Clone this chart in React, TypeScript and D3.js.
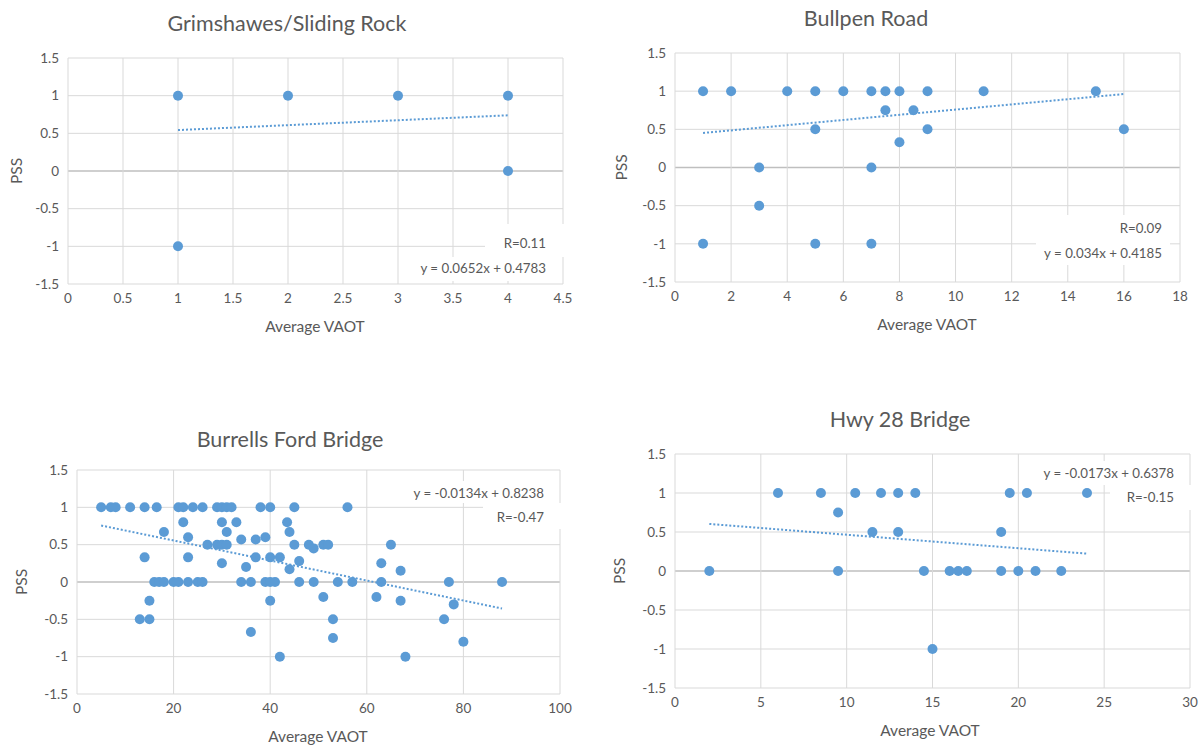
import React from "react";
import * as d3 from "d3";

// PSS vs Average VAOT, one scatter per site
const yTicks = [-1.5, -1, -0.5, 0, 0.5, 1, 1.5];

const grimshawesPoints: [number, number][] = [
  [1, 1], [2, 1], [3, 1], [4, 1], [4, 0], [1, -1],
];

const bullpenPoints: [number, number][] = [
  [1, 1], [2, 1], [4, 1], [5, 1], [6, 1], [7, 1], [7.5, 1], [8, 1], [9, 1], [11, 1], [15, 1],
  [7.5, 0.75], [8.5, 0.75], [5, 0.5], [9, 0.5], [16, 0.5], [8, 0.33],
  [3, 0], [7, 0], [3, -0.5], [1, -1], [5, -1], [7, -1],
];

const burrellsPoints: [number, number][] = [
  [5, 1], [7, 1], [8, 1], [11, 1], [14, 1], [16.5, 1], [21, 1], [22, 1], [24, 1], [26, 1],
  [29, 1], [30, 1], [31, 1], [32, 1], [38, 1], [40, 1], [45, 1], [56, 1],
  [22, 0.8], [30, 0.8], [33, 0.8], [43.5, 0.8],
  [18, 0.67], [31, 0.67], [44, 0.67],
  [23, 0.6], [34, 0.57], [37, 0.57], [39, 0.6],
  [27, 0.5], [29, 0.5], [30, 0.5], [31, 0.5], [45, 0.5], [48, 0.5], [49, 0.45], [51, 0.5], [52, 0.5], [65, 0.5],
  [14, 0.33], [23, 0.33], [37, 0.33], [40, 0.33], [42, 0.33], [30, 0.25], [35, 0.2], [46, 0.28], [44, 0.17],
  [63, 0.25], [67, 0.15],
  [16, 0], [17, 0], [18, 0], [20, 0], [21, 0], [23, 0], [25, 0], [26, 0], [34, 0], [36, 0],
  [39, 0], [40, 0], [41, 0], [46, 0], [49, 0], [54, 0], [57, 0], [63, 0], [77, 0], [88, 0],
  [15, -0.25], [13, -0.5], [15, -0.5], [36, -0.67], [40, -0.25], [42, -1], [51, -0.2],
  [53, -0.5], [53, -0.75], [62, -0.2], [67, -0.25], [68, -1], [76, -0.5], [78, -0.3], [80, -0.8],
];

const hwy28Points: [number, number][] = [
  [2, 0], [6, 1], [8.5, 1], [9.5, 0.75], [9.5, 0], [10.5, 1], [11.5, 0.5], [12, 1], [13, 1],
  [13, 0.5], [14, 1], [14.5, 0], [15, -1], [16, 0], [16.5, 0], [17, 0], [19, 0.5], [19, 0],
  [19.5, 1], [20, 0], [20.5, 1], [21, 0], [22.5, 0], [24, 1],
];

// trendline: slope, intercept, x from, x to
const grimshawesFit = [0.0652, 0.4783, 1, 4];
const bullpenFit = [0.034, 0.4185, 1, 16];
const burrellsFit = [-0.0134, 0.8238, 5, 88];
const hwy28Fit = [-0.0173, 0.6378, 2, 24];

const titles = ["Grimshawes/Sliding Rock", "Bullpen Road", "Burrells Ford Bridge", "Hwy 28 Bridge"];
const equations = ["y = 0.0652x + 0.4783", "y = 0.034x + 0.4185", "y = -0.0134x + 0.8238", "y = -0.0173x + 0.6378"];
const rLabels = ["R=0.11", "R=0.09", "R=-0.47", "R=-0.15"];

const FONT = "Lato, 'Open Sans', sans-serif";
const TXT = "#595959";
const BLUE = "#5b9bd5";

function Panel(props) {
  const { title, points, fit, eq, r, xMax, xStep, box, lay } = props;
  const x = d3.scaleLinear().domain([0, xMax]).range([box.left, box.right]);
  const y = d3.scaleLinear().domain([-1.5, 1.5]).range([box.bottom, box.top]);
  const xTicks = d3.range(0, xMax + xStep / 2, xStep);
  const [m, b, x0, x1] = fit;
  const trend = d3.line()([[x(x0), y(m * x0 + b)], [x(x1), y(m * x1 + b)]]);

  return (
    <g>
      <text x={lay.titleX} y={lay.titleY} textAnchor="middle" fontSize={21.5} fill={TXT} fontFamily={FONT}>
        {title}
      </text>

      {/* grid */}
      {yTicks.map((t) => (
        <line key={"y" + t} x1={box.left} x2={box.right} y1={y(t)} y2={y(t)}
          stroke={t === 0 ? "#bfbfbf" : "#d9d9d9"} strokeWidth={t === 0 ? 1.5 : 1} />
      ))}
      {xTicks.map((t) => (
        <line key={"x" + t} x1={x(t)} x2={x(t)} y1={box.top} y2={box.bottom} stroke="#d9d9d9" />
      ))}

      {yTicks.map((t) => (
        <text key={"yl" + t} x={box.left - 9} y={y(t)} dy="0.35em" textAnchor="end"
          fontSize={13.5} fill={TXT} fontFamily={FONT}>{String(t)}</text>
      ))}
      {xTicks.map((t) => (
        <text key={"xl" + t} x={x(t)} y={box.bottom + 19} textAnchor="middle"
          fontSize={13.5} fill={TXT} fontFamily={FONT}>{String(t)}</text>
      ))}

      <text x={lay.xLabelX} y={box.bottom + 48} textAnchor="middle" fontSize={15.5} fill={TXT} fontFamily={FONT}>
        Average VAOT
      </text>
      <text transform={`translate(${lay.pssX},${y(0)}) rotate(-90)`} textAnchor="middle" dy="0.35em"
        fontSize={15.5} fill={TXT} fontFamily={FONT}>PSS</text>

      {/* label boxes cover the grid like Excel */}
      <rect x={lay.eqBox[0]} y={lay.eqBox[1]} width={lay.eqBox[2]} height={lay.eqBox[3]} fill="#fff" />
      <rect x={lay.rBox[0]} y={lay.rBox[1]} width={lay.rBox[2]} height={lay.rBox[3]} fill="#fff" />

      {points.map((p, i) => (
        <circle key={i} cx={x(p[0])} cy={y(p[1])} r={5} fill={BLUE} />
      ))}

      <path d={trend} stroke={BLUE} strokeWidth={2} strokeDasharray="2 2" fill="none" />

      <text x={lay.textRight} y={lay.eqY} dy="0.35em" textAnchor="end" fontSize={13.3} fill={TXT} fontFamily={FONT}>
        {eq}
      </text>
      <text x={lay.textRight} y={lay.rY} dy="0.35em" textAnchor="end" fontSize={13.3} fill={TXT} fontFamily={FONT}>
        {r}
      </text>
    </g>
  );
}

export default function App() {
  return (
    <svg width={1200} height={746} style={{ position: "absolute", left: 0, top: 0, background: "#fff" }}>
      <rect width={1200} height={746} fill="#fff" />
      <Panel
        title={titles[0]} points={grimshawesPoints} fit={grimshawesFit} eq={equations[0]} r={rLabels[0]}
        xMax={4.5} xStep={0.5}
        box={{ left: 68, right: 563, top: 58, bottom: 284 }}
        lay={{ titleX: 287, titleY: 31, xLabelX: 315, pssX: 17, textRight: 546, eqY: 268, rY: 243,
          eqBox: [412, 257, 140, 24], rBox: [485, 224, 85, 33] }}
      />
      <Panel
        title={titles[1]} points={bullpenPoints} fit={bullpenFit} eq={equations[1]} r={rLabels[1]}
        xMax={18} xStep={2}
        box={{ left: 675, right: 1180, top: 53, bottom: 282 }}
        lay={{ titleX: 866, titleY: 26, xLabelX: 927, pssX: 622, textRight: 1162, eqY: 253, rY: 228,
          eqBox: [1036, 240, 134, 25], rBox: [1060, 215, 110, 25] }}
      />
      <Panel
        title={titles[2]} points={burrellsPoints} fit={burrellsFit} eq={equations[2]} r={rLabels[2]}
        xMax={100} xStep={20}
        box={{ left: 77, right: 560, top: 470, bottom: 694 }}
        lay={{ titleX: 290, titleY: 447, xLabelX: 318, pssX: 22, textRight: 544, eqY: 493, rY: 517,
          eqBox: [408, 481, 142, 22], rBox: [483, 503, 87, 26] }}
      />
      <Panel
        title={titles[3]} points={hwy28Points} fit={hwy28Fit} eq={equations[3]} r={rLabels[3]}
        xMax={30} xStep={5}
        box={{ left: 675, right: 1190, top: 454, bottom: 688 }}
        lay={{ titleX: 900, titleY: 427, xLabelX: 930, pssX: 620, textRight: 1174, eqY: 473, rY: 497,
          eqBox: [1032, 461, 148, 24], rBox: [1110, 485, 85, 25] }}
      />
    </svg>
  );
}
